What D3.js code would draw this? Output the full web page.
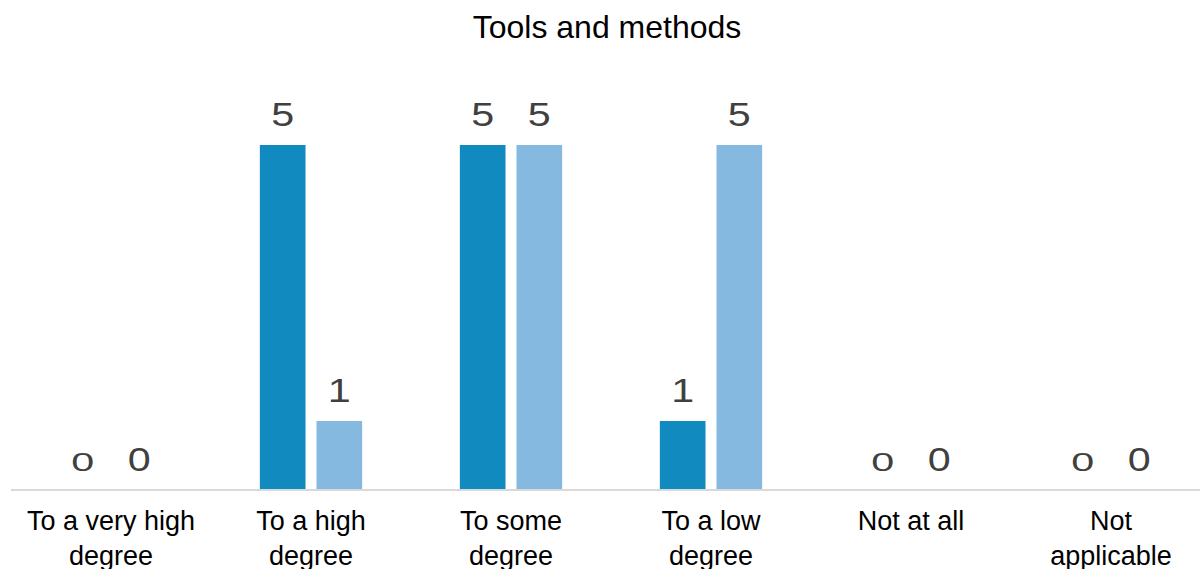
<!DOCTYPE html>
<html>
<head>
<meta charset="utf-8">
<script src="https://cdn.jsdelivr.net/npm/d3@7/dist/d3.min.js"></script>
<style>
  html, body { margin: 0; padding: 0; background: #fff; }
  svg { display: block; font-family: "Liberation Sans", Arial, sans-serif; }
</style>
</head>
<body>
<svg id="chart" width="1200" height="569"></svg>
<script>
// Survey answers for "Tools and methods", two respondent groups
const categories = [
  ["To a very high", "degree"],
  ["To a high", "degree"],
  ["To some", "degree"],
  ["To a low", "degree"],
  ["Not at all"],
  ["Not", "applicable"]
];
const seriesNames = ["Group A", "Group B"];
const seriesA = [0, 5, 5, 1, 0, 0];
const seriesB = [0, 1, 5, 5, 0, 0];
const seriesColors = ["#118bbf", "#86b9e0"];
const title = "Tools and methods";

const svg = d3.select("#chart");
const W = 1200;
const baseY = 490;

const catKeys = categories.map(c => c.join(" "));
const rows = catKeys.map((k, i) => ({ key: k, lines: categories[i], values: [seriesA[i], seriesB[i]] }));

const x0 = d3.scaleBand()
  .domain(catKeys)
  .range([11, 1211])
  .paddingInner(0.4885)
  .paddingOuter(0.2443);

const x1 = d3.scaleBand()
  .domain(seriesNames)
  .range([0, x0.bandwidth()])
  .paddingInner(0.194);

const y = d3.scaleLinear().domain([0, 5]).range([baseY, 145]);

// Title
svg.append("text")
  .attr("x", 607)
  .attr("y", 38)
  .attr("text-anchor", "middle")
  .attr("font-size", 32)
  .attr("fill", "#000")
  .text(title);

// Bars
const groups = svg.selectAll("g.cat")
  .data(rows)
  .join("g")
  .attr("class", "cat")
  .attr("transform", d => `translate(${x0(d.key)},0)`);

groups.selectAll("rect")
  .data(d => d.values.map((v, j) => ({ v, s: seriesNames[j], j })))
  .join("rect")
  .attr("x", d => x1(d.s))
  .attr("width", x1.bandwidth())
  .attr("y", d => y(d.v))
  .attr("height", d => Math.max(0, baseY - y(d.v) - 1))
  .attr("fill", d => seriesColors[d.j]);

// Baseline
svg.append("line")
  .attr("x1", 11).attr("x2", W)
  .attr("y1", baseY).attr("y2", baseY)
  .attr("stroke", "#d9d9d9")
  .attr("stroke-width", 2);

// Value labels (wide digit style)
groups.selectAll("text.val")
  .data(d => d.values.map((v, j) => ({ v, s: seriesNames[j], j })))
  .join("text")
  .attr("class", "val")
  .attr("text-anchor", "middle")
  .attr("font-size", 33)
  .attr("fill", "#404040")
  .attr("transform", d => {
    const cx = x1(d.s) + x1.bandwidth() / 2;
    const by = y(d.v) - 19.5;
    const sy = (d.v === 0 && d.j === 0) ? 0.78 : 1;
    return `translate(${cx},${by}) scale(1.25,${sy})`;
  })
  .text(d => d.v);

// Category labels
const labels = svg.selectAll("text.cat")
  .data(rows)
  .join("text")
  .attr("class", "cat")
  .attr("text-anchor", "middle")
  .attr("font-size", 27)
  .attr("fill", "#000")
  .attr("x", d => x0(d.key) + x0.bandwidth() / 2)
  .attr("y", 529.5);

labels.selectAll("tspan")
  .data(d => d.lines.map(l => ({ l, cx: x0(d.key) + x0.bandwidth() / 2 })))
  .join("tspan")
  .attr("x", d => d.cx)
  .attr("dy", (d, i) => i === 0 ? 0 : 35)
  .text(d => d.l);
</script>
</body>
</html>
